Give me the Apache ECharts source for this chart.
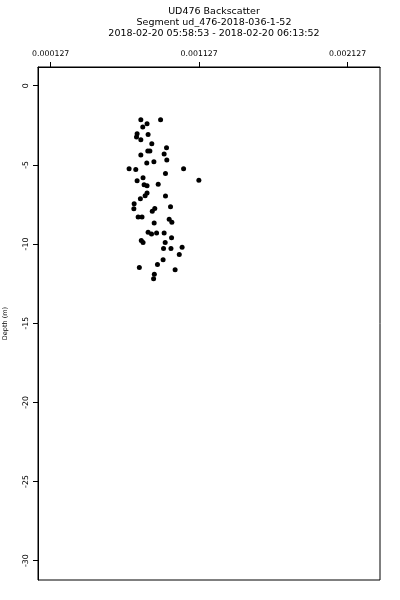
<!DOCTYPE html>
<html><head><meta charset="utf-8">
<script src="https://cdn.jsdelivr.net/npm/echarts@6/dist/echarts.min.js"></script>
<style>html,body{margin:0;padding:0;background:#fff}#c{width:400px;height:600px}</style>
</head><body><div id="c"></div>
<script>
const titleLines = ["UD476 Backscatter","Segment ud_476-2018-036-1-52","2018-02-20 05:58:53 - 2018-02-20 06:13:52"];
const yAxisName = "Depth (m)";
const xTicks = [0.000127, 0.001127, 0.002127];
const yTicks = [0, -5, -10, -15, -20, -25, -30];
const backscatter = [0.000734,0.000867,0.000776,0.000747,0.000709,0.000705,0.000783,0.000734,0.000808,0.000907,
 0.000781,0.000795,0.000891,0.000734,0.000909,0.000822,0.000774,0.000655,0.000700,0.001022,
 0.000900,0.001125,0.000749,0.000709,0.000756,0.000776,0.000851,0.000776,0.000763,0.000900,
 0.000731,0.000689,0.000687,0.000828,0.000811,0.000934,0.000716,0.000742,0.000925,0.000943,
 0.000824,0.000783,0.000806,0.000840,0.000891,0.000941,0.000737,0.000749,0.000898,0.000887,
 0.000937,0.001012,0.000993,0.000884,0.000846,0.000724,0.000965,0.000825,0.000820];
const depth = [-2.15,-2.15,-2.40,-2.61,-3.03,-3.24,-3.09,-3.41,-3.66,-3.92,
 -4.12,-4.12,-4.31,-4.38,-4.69,-4.80,-4.88,-5.24,-5.29,-5.24,
 -5.54,-5.98,-5.81,-6.00,-6.25,-6.32,-6.23,-6.78,-6.95,-6.97,
 -7.14,-7.45,-7.77,-7.75,-7.93,-7.64,-8.29,-8.29,-8.43,-8.62,
 -8.68,-9.25,-9.36,-9.30,-9.30,-9.61,-9.78,-9.90,-9.90,-10.28,
 -10.28,-10.21,-10.66,-10.99,-11.29,-11.48,-11.62,-11.91,-12.20];
const pts = backscatter.map((v,i)=>[v, depth[i]]);
const FONT = "DejaVu Sans";
const chart = echarts.init(document.getElementById('c'));
chart.setOption({
  animation:false,
  backgroundColor:'#fff',
  title:{text:titleLines.join('\n'), left:209, top:1, textAlign:'center',
    textStyle:{fontFamily:FONT,fontSize:9.5,fontWeight:'normal',color:'#000',lineHeight:11.2}},
  grid:{left:38,right:20,top:67,bottom:20,show:true,borderColor:'#000',borderWidth:1,
    backgroundColor:'transparent',containLabel:false,outerBoundsMode:'none'},
  xAxis:{type:'value',position:'top',min:0.0000414,max:0.002345,
    axisLine:{show:true,onZero:false,lineStyle:{color:'#000',width:1}},splitLine:{show:false},
    axisTick:{show:true,inside:false,length:5,lineStyle:{color:'#000',width:1},customValues:xTicks},
    axisLabel:{show:true,margin:9,fontFamily:FONT,fontSize:7.8,color:'#000',customValues:xTicks,
      formatter:v=>v.toFixed(6)}},
  yAxis:{type:'value',min:-31.22,max:1.18,
    name:yAxisName,nameLocation:'middle',nameRotate:90,nameGap:29,
    nameTextStyle:{fontFamily:FONT,fontSize:6.5,color:'#000'},
    axisLine:{show:true,onZero:false,lineStyle:{color:'#000',width:1}},splitLine:{show:false},
    axisTick:{show:true,inside:false,length:5,lineStyle:{color:'#000',width:1},customValues:yTicks},
    axisLabel:{show:true,rotate:90,margin:8,fontFamily:FONT,fontSize:7.8,color:'#000',customValues:yTicks}},
  series:[{type:'scatter',data:pts,symbol:'circle',symbolSize:5,itemStyle:{color:'#000',opacity:1}}]
});
</script></body></html>
